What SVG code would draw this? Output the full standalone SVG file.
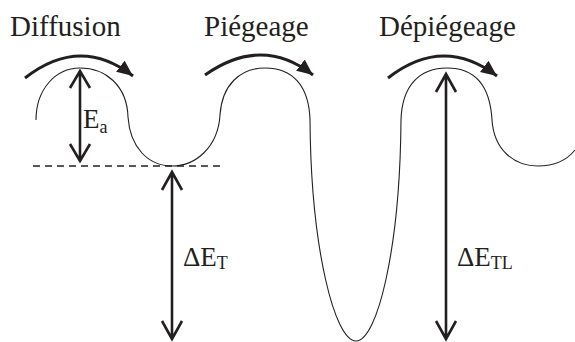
<svg xmlns="http://www.w3.org/2000/svg" width="575" height="342" viewBox="0 0 575 342">
<defs>
<style>
.t{font-size:29px}
.l{font-size:27px}
.s{font-size:18px}
.curve{fill:none;stroke:#231f20;stroke-width:1.1}
.hop{fill:none;stroke:#231f20;stroke-width:3;marker-end:url(#tri)}
.dim{fill:none;stroke:#231f20;stroke-width:2.6}
.dash{fill:none;stroke:#231f20;stroke-width:1.3;stroke-dasharray:7,5}
</style>
<marker id="tri" markerUnits="userSpaceOnUse" markerWidth="20" markerHeight="20" refX="16" refY="7" orient="auto" viewBox="0 0 20 20">
<path d="M0,0 L16,7 L0,14 Z" fill="#231f20"/>
</marker>
</defs>
<g id="energy-landscape">
<path class="curve" d="M36,120 C36,90 55,68 80,68 C105,68 127,85 128,117 C130,147 148,166 172,166 C196,166 218,147 220,115 C222,85 240,68 265,68 C292,68 309,85 310,120 C311,250 335,341 356,341 C377,341 400,250 401,120 C402,85 420,68 447,68 C474,68 490,85 492,120 C494,150 514,166 538,166 C555,166 567,160 575,150"/>
<path class="dash" d="M33,166 H222"/>
</g>
<g id="connectors">
<path class="hop" d="M25,78 Q80,35 133,76"/>
<path class="hop" d="M205,75 Q262,35 313,75"/>
<path class="hop" d="M388,78 Q443,35 497,76"/>
<path class="dim" d="M80,71 V161 M70,88 L80,71 L90,88 M70,144 L80,161 L90,144"/>
<path class="dim" d="M172,172 V339 M162,190 L172,172 L182,190 M162,321 L172,339 L182,321"/>
<path class="dim" d="M446,74 V339 M436,92 L446,74 L456,92 M436,321 L446,339 L456,321"/>
</g>
<g font-family="'Liberation Serif', 'DejaVu Serif', serif" fill="#231f20">
<g id="label-diffusion"><text class="t" x="10" y="36">Diffusion</text></g>
<g id="label-piegeage"><text class="t" x="204" y="36">Piégeage</text></g>
<g id="label-depiegeage"><text class="t" x="379" y="36">Dépiégeage</text></g>
<g id="label-ea"><text class="l" x="83" y="128">E<tspan class="s" dy="5">a</tspan></text></g>
<g id="label-det"><text class="l" x="183" y="266">ΔE<tspan class="s" dy="3">T</tspan></text></g>
<g id="label-detl"><text class="l" x="457" y="266">ΔE<tspan class="s" dy="3">TL</tspan></text></g>
</g>
</svg>
